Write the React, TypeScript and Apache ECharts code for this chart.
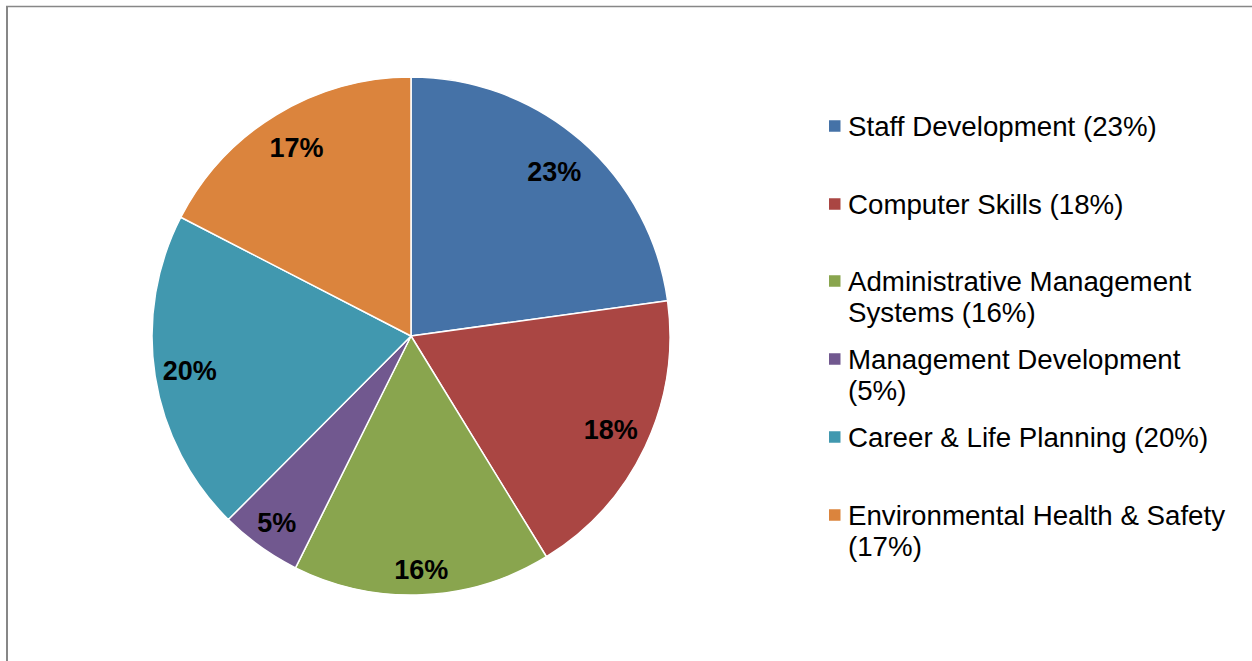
import React, { useEffect, useRef } from "react";
import * as echarts from "echarts";

const categories = [
  "Staff Development",
  "Computer Skills",
  "Administrative Management Systems",
  "Management Development",
  "Career & Life Planning",
  "Environmental Health & Safety",
];
// shares; the labels show them rounded
const values = [22.8, 18.4, 16.1, 5.1, 20.1, 17.4];
const legendTexts = [
  "Staff Development (23%)",
  "Computer Skills (18%)",
  "Administrative Management\nSystems (16%)",
  "Management Development\n(5%)",
  "Career & Life Planning (20%)",
  "Environmental Health & Safety\n(17%)",
];
const colors = ["#4572A7", "#AA4643", "#89A54E", "#71588F", "#4198AF", "#DB843D"];

export default function App() {
  const ref = useRef<HTMLDivElement>(null);
  useEffect(() => {
    if (!ref.current) return;
    const chart = echarts.init(ref.current, undefined, { renderer: "svg" });
    const font = "Liberation Sans, Arial, sans-serif";
    const iconCentres = [126, 204, 281, 359, 437, 515];
    const labelRadii = [215, 218, 231, 227, 221, 217];
    const baseLabelR = 218.5;
    const lh = 31;
    const legends = categories.map((name, i) => {
      const lines = legendTexts[i].split("\n").length;
      const multi = lines > 1;
      const text = multi ? " \n" + legendTexts[i] : legendTexts[i];
      const totalLines = multi ? lines + 1 : 1;
      return {
        orient: "vertical",
        left: 829,
        top: iconCentres[i] - (totalLines * lh) / 2,
        padding: 0,
        data: [name],
        icon: "rect",
        itemWidth: 11.5,
        itemHeight: 11.5,
        itemStyle: { borderWidth: 0, borderColor: "rgba(0,0,0,0)" },
        selectedMode: false,
        formatter: () => text,
        textStyle: {
          fontFamily: font,
          fontSize: 27.7,
          lineHeight: lh,
          color: "#000",
          padding: [0, 0, 0, 2.5],
        },
      };
    });
    const total = values.reduce((a, b) => a + b, 0);
    let cum = 0;
    const labelData = categories.map((name, i) => {
      const mid = ((cum + values[i] / 2) / total) * Math.PI * 2;
      cum += values[i];
      const d = labelRadii[i] - baseLabelR;
      return {
        name,
        value: values[i],
        label: { offset: [d * Math.sin(mid), -d * Math.cos(mid)] },
      };
    });
    const data = categories.map((name, i) => ({
      name,
      value: values[i],
      itemStyle: { color: colors[i] },
    }));
    chart.setOption({
      animation: false,
      backgroundColor: "#fff",
      color: colors,
      legend: legends,
      graphic: [
        { type: "line", shape: { x1: 7, y1: 6, x2: 7, y2: 700 }, style: { stroke: "#878787", lineWidth: 2 } },
        { type: "line", shape: { x1: 6, y1: 6.5, x2: 1300, y2: 6.5 }, style: { stroke: "#878787", lineWidth: 1.5 } },
      ],
      series: [
        {
          type: "pie",
          center: [411, 336],
          radius: [0, 259],
          startAngle: 90,
          clockwise: true,
          data,
          label: { show: false },
          labelLine: { show: false },
          itemStyle: { borderColor: "#fff", borderWidth: 1.5 },
          emphasis: { disabled: true },
        },
        {
          type: "pie",
          center: [411, 336],
          radius: [178, 259],
          startAngle: 90,
          clockwise: true,
          silent: true,
          legendHoverLink: false,
          data: labelData,
          itemStyle: { color: "rgba(0,0,0,0)", borderWidth: 0 },
          label: {
            show: true,
            position: "inside",
            formatter: (p: any) => `${Math.round(p.value)}%`,
            fontFamily: font,
            fontSize: 27,
            fontWeight: "bold",
            color: "#000",
          },
          labelLine: { show: false },
          emphasis: { disabled: true },
        },
      ],
    });
    return () => chart.dispose();
  }, []);
  return (
    <div
      ref={ref}
      style={{ position: "absolute", left: 0, top: 0, width: 1252, height: 661 }}
    />
  );
}
